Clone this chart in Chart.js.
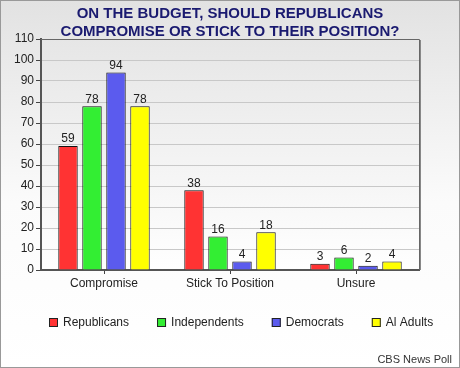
<!DOCTYPE html>
<html>
<head>
<meta charset="utf-8">
<script src="https://cdn.jsdelivr.net/npm/chart.js@4.4.1/dist/chart.umd.min.js"></script>
<style>
  html, body { margin: 0; padding: 0; background: #fff; }
  #wrap { position: relative; width: 460px; height: 368px; }
  canvas { display: block; }
</style>
</head>
<body>
<div id="wrap"><canvas id="c" width="460" height="368"></canvas></div>
<script>
const categories = ["Compromise", "Stick To Position", "Unsure"];
const seriesNames = ["Republicans", "Independents", "Democrats", "Al Adults"];
const republicans = [59, 38, 3];
const independents = [78, 16, 6];
const democrats = [94, 4, 2];
const allAdults = [78, 18, 4];
const yTicks = [0, 10, 20, 30, 40, 50, 60, 70, 80, 90, 100, 110];
const titleLines = ["ON THE BUDGET, SHOULD REPUBLICANS", "COMPROMISE OR STICK TO THEIR POSITION?"];
const sourceText = "CBS News Poll";

const colors = ["#ff3333", "#33ee33", "#5b5bee", "#ffff00"];
const seriesData = [republicans, independents, democrats, allAdults];

const FONT = "Arial, 'Liberation Sans', sans-serif";

const bgPlugin = {
  id: 'bgPlugin',
  beforeDraw(chart) {
    const {ctx, width, height, chartArea: a} = chart;
    ctx.save();
    let g = ctx.createLinearGradient(0, 0, 0, height);
    g.addColorStop(0, '#e2e2e2');
    g.addColorStop(0.55, '#fbfbfb');
    g.addColorStop(1, '#ffffff');
    ctx.fillStyle = g;
    ctx.fillRect(0, 0, width, height);
    g = ctx.createLinearGradient(0, a.top, 0, a.bottom);
    g.addColorStop(0, '#e6e6e6');
    g.addColorStop(1, '#ffffff');
    ctx.fillStyle = g;
    ctx.fillRect(a.left, a.top, a.right - a.left, a.bottom - a.top);
    ctx.strokeStyle = '#999';
    ctx.lineWidth = 1;
    ctx.strokeRect(0.5, 0.5, width - 1, height - 1);
    ctx.restore();
  },
  afterDraw(chart) {
    const {ctx, chartArea: a} = chart;
    ctx.save();
    ctx.strokeStyle = '#666';
    ctx.lineWidth = 1;
    ctx.beginPath();
    ctx.moveTo(a.left, a.top + 0.5);
    ctx.lineTo(a.right + 0.5, a.top + 0.5);
    ctx.lineTo(a.right + 0.5, a.bottom);
    ctx.stroke();
    ctx.strokeStyle = '#888';
    ctx.beginPath();
    ctx.moveTo(a.right + 1.5, a.top + 1);
    ctx.lineTo(a.right + 1.5, a.bottom);
    ctx.stroke();
    // value labels
    ctx.font = '12px ' + FONT;
    ctx.fillStyle = '#222';
    ctx.textAlign = 'center';
    ctx.textBaseline = 'bottom';
    chart.data.datasets.forEach((ds, i) => {
      const meta = chart.getDatasetMeta(i);
      meta.data.forEach((bar, j) => {
        ctx.fillText(String(ds.data[j]), bar.x, bar.y - 1);
      });
    });
    // legend
    ctx.textAlign = 'left';
    ctx.textBaseline = 'middle';
    let x = 49;
    const yc = 322.5;
    chart.data.datasets.forEach(ds => {
      ctx.fillStyle = ds.backgroundColor;
      ctx.fillRect(x, yc - 4.5, 9, 9);
      ctx.strokeStyle = '#222';
      ctx.lineWidth = 1;
      ctx.strokeRect(x + 0.5, yc - 4, 8, 8);
      ctx.fillStyle = '#222';
      ctx.fillText(ds.label, x + 14, yc + 0.5);
      x += 14 + ctx.measureText(ds.label).width + 28;
    });
    ctx.restore();
  }
};

new Chart(document.getElementById('c'), {
  type: 'bar',
  data: {
    labels: categories,
    datasets: seriesNames.map((name, i) => ({
      label: name,
      data: seriesData[i],
      backgroundColor: colors[i],
      borderColor: '#111',
      borderWidth: 1,
      categoryPercentage: 0.762,
      barPercentage: 0.81
    }))
  },
  options: {
    responsive: false,
    animation: false,
    devicePixelRatio: 1,
    layout: { padding: { left: 0, right: 8, top: 0, bottom: 0 } },
    plugins: {
      tooltip: { enabled: false },
      legend: { display: false },
      title: {
        display: true,
        text: titleLines,
        fullSize: false,
        color: '#1a1a70',
        font: { family: FONT, size: 15, weight: 'bold', lineHeight: 1.2 },
        padding: { top: 5, bottom: -2 }
      },
      subtitle: {
        display: true,
        text: sourceText,
        position: 'bottom',
        align: 'end',
        color: '#333',
        font: { family: FONT, size: 11, lineHeight: 1.2 },
        padding: { top: 0, bottom: 1.4 }
      }
    },
    scales: {
      x: {
        type: 'category',
        offset: true,
        afterFit(s) { s.height = 83.4; },
        grid: {
          offset: false,
          drawOnChartArea: false,
          drawTicks: true,
          tickLength: 4,
          tickColor: '#444'
        },
        border: { display: true, color: '#555', width: 2 },
        ticks: {
          color: '#222',
          padding: 2,
          maxRotation: 0,
          autoSkip: false,
          font: { family: FONT, size: 12 }
        }
      },
      y: {
        type: 'linear',
        min: 0,
        max: 110,
        afterFit(s) { s.width = 41; },
        afterBuildTicks(s) { s.ticks = yTicks.map(v => ({ value: v })); },
        grid: {
          color: '#c8c8c8',
          lineWidth: 1,
          drawTicks: true,
          tickLength: 5,
          tickColor: '#444'
        },
        border: { display: true, color: '#555', width: 2 },
        ticks: {
          color: '#222',
          padding: 2,
          font: { family: FONT, size: 12 }
        }
      },
      yRight: {
        type: 'linear',
        position: 'right',
        display: true,
        afterFit(s) { s.width = 33; },
        grid: { display: false },
        border: { display: false },
        ticks: { display: false }
      }
    }
  },
  plugins: [bgPlugin]
});
</script>
</body>
</html>
